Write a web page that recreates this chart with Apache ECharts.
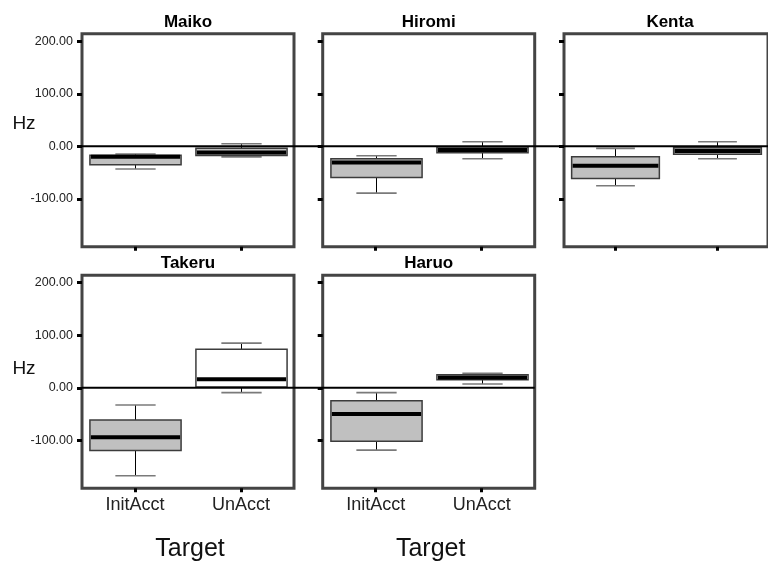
<!DOCTYPE html>
<html>
<head>
<meta charset="utf-8">
<script src="https://cdn.jsdelivr.net/npm/echarts@6/dist/echarts.min.js"></script>
<style>
  html, body { margin: 0; padding: 0; background: #fff; }
  #chart { width: 768px; height: 564px; }
</style>
</head>
<body>
<div id="chart"></div>
<script>
// Targets on the category axis
const categories = ['InitAcct', 'UnAcct'];
// One panel per speaker
const speakers = ['Maiko', 'Hiromi', 'Kenta', 'Takeru', 'Haruo'];

// Five-number summaries in Hz: [min, Q1, median, Q3, max]
const maikoInit   = [-43, -35, -20, -17, -14.5];
const maikoUn     = [-20, -17.5, -11.5, -3.8, 5];
const hiromiInit  = [-89, -59, -30.5, -23.5, -18];
const hiromiUn    = [-23.5, -12, -7, -1.3, 8.7];
const kentaInit   = [-75, -61, -37, -20, -3.8];
const kentaUn     = [-23.5, -15, -9, -2.7, 8.7];
const takeruInit  = [-167, -119, -94, -61, -32.5];
const takeruUn    = [-9, 1.5, 16.5, 73.5, 85];
const haruoInit   = [-118.5, -101.5, -49.5, -24.3, -9];
const haruoUn     = [7.2, 15.6, 19.6, 25, 27.5];

const summaries = {
  Maiko:  [maikoInit, maikoUn],
  Hiromi: [hiromiInit, hiromiUn],
  Kenta:  [kentaInit, kentaUn],
  Takeru: [takeruInit, takeruUn],
  Haruo:  [haruoInit, haruoUn]
};

// Value axis
const yTickValues = [-100, 0, 100, 200];
const yMin = -191;
const yMax = 214;

// ---- layout & style ----
const FONT = "'Liberation Sans', Arial, Helvetica, sans-serif";
const colLeft = [82, 322.7, 564];
const rowTop = [33.8, 275.3];
const panelW = 212;
const panelH = 213;
const panelPos = {
  Maiko:  [0, 0], Hiromi: [1, 0], Kenta: [2, 0],
  Takeru: [0, 1], Haruo:  [1, 1]
};
const GRAY_FILL = '#c0c0c0';
const openBoxes = { Takeru: [false, true], Haruo: [false, true] };

function boxRenderer(speaker) {
  return function (params, api) {
    const c = api.value(0);
    const band = api.size([1, 0])[0];
    const boxHalf = band * 0.43;
    const capHalf = band * 0.19;
    const pMin = api.coord([c, api.value(1)]);
    const x = Math.round(pMin[0]) + 0.5;
    const yLo = pMin[1];
    const yQ1 = api.coord([c, api.value(2)])[1];
    const yMed = api.coord([c, api.value(3)])[1];
    const yQ3 = api.coord([c, api.value(4)])[1];
    const yHi = api.coord([c, api.value(5)])[1];
    const open = openBoxes[speaker] && openBoxes[speaker][c];
    return {
      type: 'group',
      children: [
        { type: 'line', shape: { x1: x, y1: yHi, x2: x, y2: yQ3 }, style: { stroke: '#000', lineWidth: 1 } },
        { type: 'line', shape: { x1: x, y1: yQ1, x2: x, y2: yLo }, style: { stroke: '#000', lineWidth: 1 } },
        { type: 'line', shape: { x1: x - capHalf, y1: yHi, x2: x + capHalf, y2: yHi }, style: { stroke: '#7a7a7a', lineWidth: 1.6 } },
        { type: 'line', shape: { x1: x - capHalf, y1: yLo, x2: x + capHalf, y2: yLo }, style: { stroke: '#7a7a7a', lineWidth: 1.6 } },
        { type: 'rect', shape: { x: x - boxHalf, y: yQ3, width: boxHalf * 2, height: yQ1 - yQ3 },
          style: { fill: open ? '#fff' : GRAY_FILL, stroke: '#3c3c3c', lineWidth: 1.5 } },
        { type: 'line', shape: { x1: x - boxHalf + 1, y1: yMed, x2: x + boxHalf - 1, y2: yMed },
          style: { stroke: '#000', lineWidth: 4 } }
      ]
    };
  };
}

const grids = [], xAxes = [], yAxes = [], series = [];
const texts = [];

speakers.forEach(function (name, i) {
  const col = panelPos[name][0], row = panelPos[name][1];
  const left = colLeft[col], top = rowTop[row];
  grids.push({
    left: left, top: top, width: panelW, height: panelH,
    show: true, borderColor: '#444', borderWidth: 3, backgroundColor: 'transparent'
  });
  xAxes.push({
    type: 'category', gridIndex: i, data: categories, boundaryGap: true, position: 'bottom',
    axisLine: { show: false, onZero: false },
    axisTick: { show: true, alignWithLabel: true, length: 4, lineStyle: { color: '#000', width: 3 } },
    axisLabel: { show: row === 1, margin: 8, fontSize: 18, color: '#222', fontFamily: FONT },
    splitLine: { show: false }
  });
  yAxes.push({
    type: 'value', gridIndex: i, min: yMin, max: yMax, position: 'left',
    axisLine: { show: false, onZero: false },
    axisTick: { show: true, customValues: yTickValues, length: 5, lineStyle: { color: '#000', width: 3 } },
    axisLabel: {
      show: col === 0, customValues: yTickValues, margin: 9, fontSize: 12.5, color: '#222', fontFamily: FONT,
      formatter: function (v) { return v.toFixed(2); }
    },
    splitLine: { show: false }
  });
  series.push({
    type: 'custom', name: name, xAxisIndex: i, yAxisIndex: i, z: 3,
    renderItem: boxRenderer(name),
    encode: { x: 0, y: [1, 2, 3, 4, 5] },
    data: summaries[name].map(function (s, k) { return [k].concat(s); })
  });
  // panel title
  texts.push({
    type: 'text', x: left + panelW / 2, y: top - 11.5,
    style: { text: name, font: 'bold 17px ' + FONT, fill: '#000', align: 'center', verticalAlign: 'middle' }
  });
  if (col === 0) {
    texts.push({
      type: 'text', x: 24, y: row === 0 ? 124 : 369,
      style: { text: 'Hz', font: '19px ' + FONT, fill: '#111', align: 'center', verticalAlign: 'middle' }
    });
  }
  if (row === 1) {
    texts.push({
      type: 'text', x: left + panelW / 2 + 2, y: 549,
      style: { text: 'Target', font: '25px ' + FONT, fill: '#111', align: 'center', verticalAlign: 'middle' }
    });
  }
});

const chart = echarts.init(document.getElementById('chart'), null, { renderer: 'canvas' });
chart.setOption({
  animation: false,
  backgroundColor: '#fff',
  textStyle: { fontFamily: FONT },
  grid: grids,
  xAxis: xAxes,
  yAxis: yAxes,
  series: series,
  graphic: texts
});

// zero reference line running across each row of panels
const zeroTop = chart.convertToPixel({ yAxisIndex: 0 }, 0);
const zeroBottom = chart.convertToPixel({ yAxisIndex: 3 }, 0);
const zeroLines = [
  { type: 'line', z: 10, shape: { x1: colLeft[0], y1: zeroTop, x2: 768, y2: zeroTop }, style: { stroke: '#000', lineWidth: 2 } },
  { type: 'line', z: 10, shape: { x1: colLeft[0], y1: zeroBottom, x2: colLeft[1] + panelW, y2: zeroBottom }, style: { stroke: '#000', lineWidth: 2 } }
];
chart.setOption({ graphic: texts.concat(zeroLines) });
</script>
</body>
</html>
